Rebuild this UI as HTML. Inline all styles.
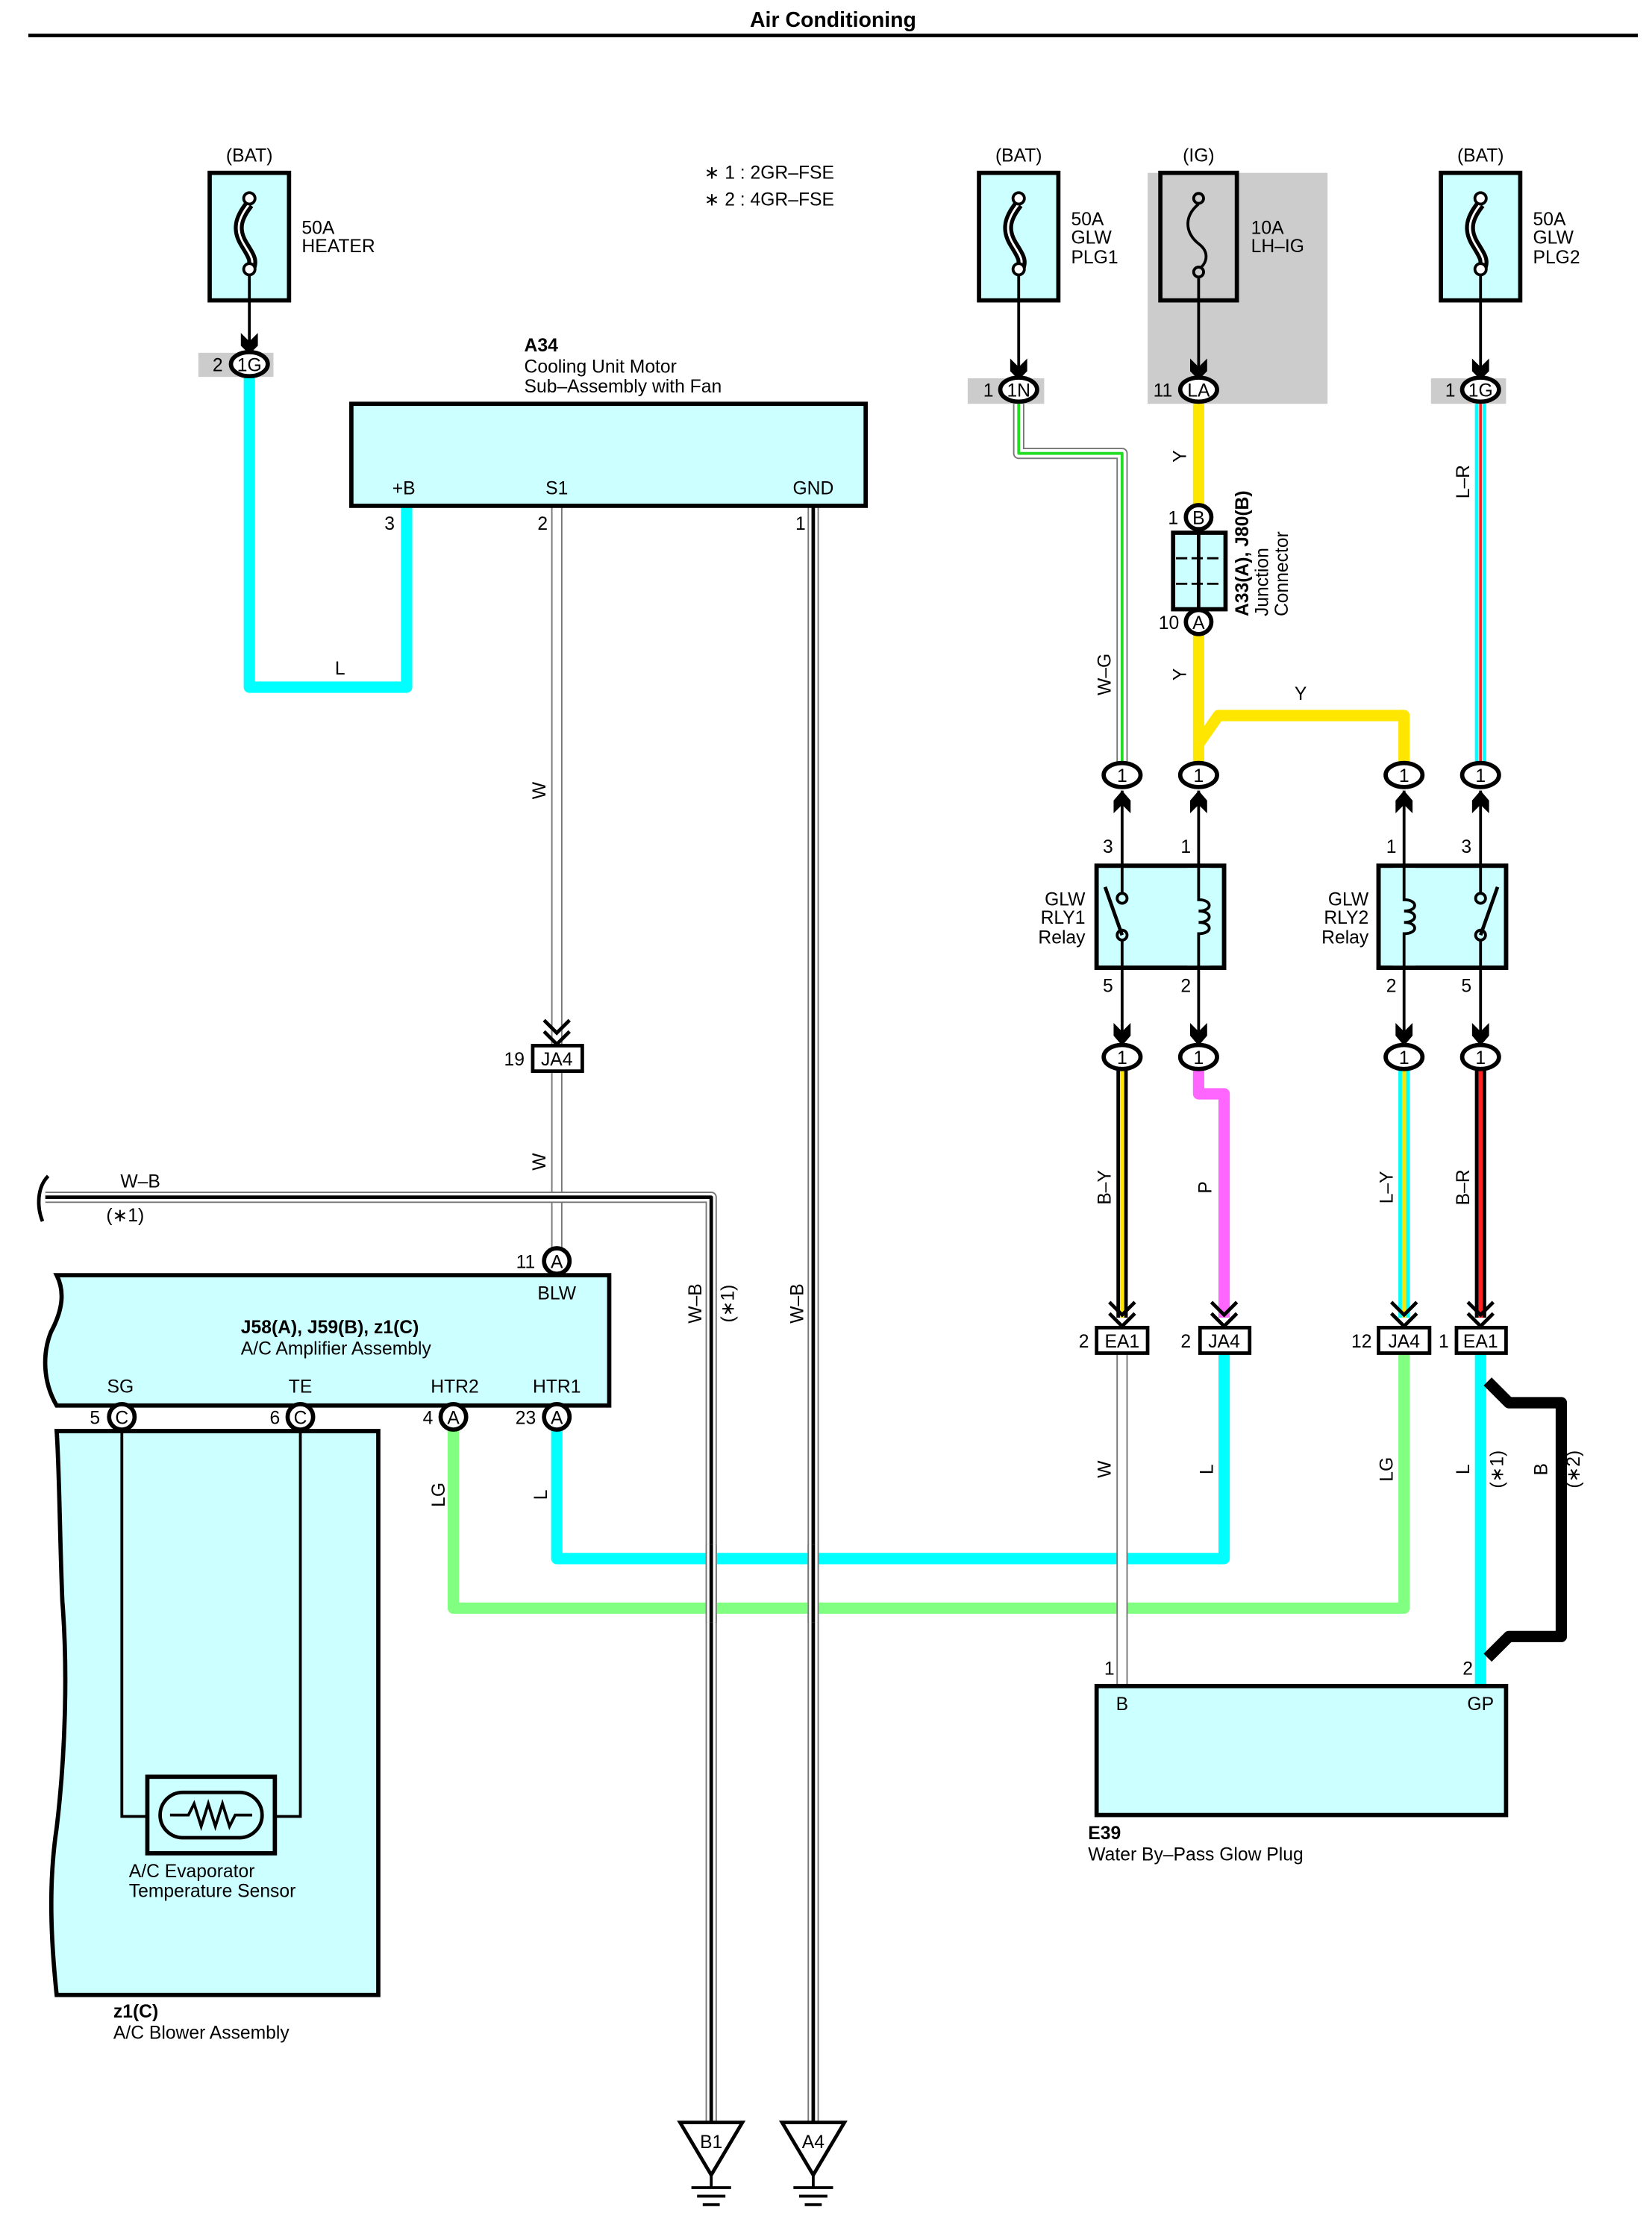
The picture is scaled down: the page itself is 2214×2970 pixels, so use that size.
<!DOCTYPE html>
<html><head><meta charset="utf-8"><style>
html,body{margin:0;padding:0;background:#fff}
svg{display:block}
text{font-family:"Liberation Sans",Arial,sans-serif;font-size:13px;fill:#000}
.b{font-weight:bold}
.box{fill:#ccffff;stroke:#000;stroke-width:3}
.ov{fill:#fff;stroke:#000;stroke-width:3}
.w{fill:none;stroke-linejoin:round}
</style></head><body>
<svg width="2214" height="2970" viewBox="0 0 1166 1564" preserveAspectRatio="none" xmlns="http://www.w3.org/2000/svg">
<defs>
<g id="fuseB">
<rect x="-28" y="0" width="56" height="90" class="box"/>
<path d="M0,22 C-8,32 -10,40 -4,50 C2,60 4,62 0,70" fill="none" stroke="#000" stroke-width="7"/>
<path d="M0,22 C-8,32 -10,40 -4,50 C2,60 4,62 0,70" fill="none" stroke="#fff" stroke-width="1.5"/>
<circle cx="0" cy="18" r="4" fill="#fff" stroke="#000" stroke-width="2"/>
<circle cx="0" cy="68" r="4" fill="#fff" stroke="#000" stroke-width="2"/>
</g>
<path id="chevUp" d="M-6,12 L0,6 L6,12 L6,3 L0,-4 L-6,3Z" fill="#000"/>
<path id="chevDn" d="M-6,-12 L0,-6 L6,-12 L6,-3 L0,4 L-6,-3Z" fill="#000"/>
<path id="dchev" d="M-9,-16 L0,-7 L9,-16 M-9,-8 L0,1 L9,-8" fill="none" stroke="#000" stroke-width="2.5"/>
</defs>

<text x="588" y="19" class="b" text-anchor="middle" style="font-size:15px">Air Conditioning</text>
<line x1="20" y1="25" x2="1156" y2="25" stroke="#000" stroke-width="2.5"/>

<text x="497" y="126">∗ 1 : 2GR–FSE</text>
<text x="497" y="145">∗ 2 : 4GR–FSE</text>

<rect x="140" y="249" width="53" height="17" fill="#ccc"/>
<rect x="683" y="267" width="54" height="18" fill="#ccc"/>
<rect x="810" y="122" width="127" height="163" fill="#ccc"/>
<rect x="1010" y="267" width="53" height="18" fill="#ccc"/>

<path d="M176,266 V485 H287 V358" class="w" stroke="#00ffff" stroke-width="8"/>
<text x="240" y="476" text-anchor="middle">L</text>
<path d="M393,358 V890" class="w" stroke="#777" stroke-width="8"/>
<path d="M393,358 V890" class="w" stroke="#fff" stroke-width="6"/>
<path d="M574,358 V1500" class="w" stroke="#777" stroke-width="8"/>
<path d="M574,358 V1500" class="w" stroke="#fff" stroke-width="6"/>
<path d="M574,358 V1500" class="w" stroke="#000" stroke-width="2.5"/>
<path d="M32,845 H502 V1500" class="w" stroke="#777" stroke-width="8"/>
<path d="M32,845 H502 V1500" class="w" stroke="#fff" stroke-width="6"/>
<path d="M32,845 H502 V1500" class="w" stroke="#000" stroke-width="2.5"/>
<path d="M34,830 C26,838 26,852 30,862" fill="none" stroke="#000" stroke-width="2.5"/>
<path d="M320,1008 V1135 H991 V955" class="w" stroke="#80ff80" stroke-width="8"/>
<path d="M393,1008 V1100 H864 V955" class="w" stroke="#00ffff" stroke-width="8"/>
<path d="M502,1090 V1145" stroke="#777" stroke-width="8"/>
<path d="M502,1090 V1145" stroke="#fff" stroke-width="6"/>
<path d="M502,1090 V1145" stroke="#000" stroke-width="2.5"/>
<path d="M574,1090 V1145" stroke="#777" stroke-width="8"/>
<path d="M574,1090 V1145" stroke="#fff" stroke-width="6"/>
<path d="M574,1090 V1145" stroke="#000" stroke-width="2.5"/>

<path d="M719,285 V320 H792 V540" class="w" stroke="#777" stroke-width="8"/>
<path d="M719,285 V320 H792 V540" class="w" stroke="#fff" stroke-width="6"/>
<path d="M719,285 V320 H792 V540" class="w" stroke="#22dd22" stroke-width="2"/>
<path d="M846,285 V540" class="w" stroke="#ffe600" stroke-width="8"/>
<path d="M846,525 L860,505 H991 V540" class="w" stroke="#ffe600" stroke-width="8"/>
<path d="M1045,285 V540" stroke="#00ffff" stroke-width="8"/>
<path d="M1045,285 V540" stroke="#fff" stroke-width="3"/>
<path d="M1045,285 V540" stroke="#ff2222" stroke-width="2"/>

<path d="M792,754 V930" stroke="#000" stroke-width="8"/>
<path d="M792,754 V930" stroke="#ffe600" stroke-width="3"/>
<path d="M846,754 V772 H864 V930" class="w" stroke="#ff66ff" stroke-width="8"/>
<path d="M991,754 V930" stroke="#00ffff" stroke-width="8"/>
<path d="M991,754 V930" stroke="#ffe600" stroke-width="3"/>
<path d="M1045,754 V930" stroke="#000" stroke-width="8"/>
<path d="M1045,754 V930" stroke="#ff2222" stroke-width="3"/>

<path d="M792,955 V1190" stroke="#777" stroke-width="8"/>
<path d="M792,955 V1190" stroke="#fff" stroke-width="6"/>
<path d="M1045,955 V1190" stroke="#00ffff" stroke-width="8"/>
<path d="M1050,975 L1065,990 H1102 V1155 H1065 L1050,1170" class="w" stroke="#000" stroke-width="8"/>

<text transform="translate(385,558) rotate(-90)" text-anchor="middle">W</text>
<text transform="translate(385,820) rotate(-90)" text-anchor="middle">W</text>
<text x="85" y="838">W–B</text>
<text x="75" y="862">(∗1)</text>
<text transform="translate(495,920) rotate(-90)" text-anchor="middle">W–B</text>
<text transform="translate(518,920) rotate(-90)" text-anchor="middle">(∗1)</text>
<text transform="translate(567,920) rotate(-90)" text-anchor="middle">W–B</text>
<text transform="translate(314,1055) rotate(-90)" text-anchor="middle">LG</text>
<text transform="translate(386,1055) rotate(-90)" text-anchor="middle">L</text>
<text transform="translate(784,476) rotate(-90)" text-anchor="middle">W–G</text>
<text transform="translate(837,322) rotate(-90)" text-anchor="middle">Y</text>
<text transform="translate(837,476) rotate(-90)" text-anchor="middle">Y</text>
<text x="918" y="494" text-anchor="middle">Y</text>
<text transform="translate(1037,340) rotate(-90)" text-anchor="middle">L–R</text>
<text transform="translate(784,838) rotate(-90)" text-anchor="middle">B–Y</text>
<text transform="translate(855,838) rotate(-90)" text-anchor="middle">P</text>
<text transform="translate(983,838) rotate(-90)" text-anchor="middle">L–Y</text>
<text transform="translate(1037,838) rotate(-90)" text-anchor="middle">B–R</text>
<text transform="translate(784,1037) rotate(-90)" text-anchor="middle">W</text>
<text transform="translate(856,1037) rotate(-90)" text-anchor="middle">L</text>
<text transform="translate(983,1037) rotate(-90)" text-anchor="middle">LG</text>
<text transform="translate(1037,1037) rotate(-90)" text-anchor="middle">L</text>
<text transform="translate(1061,1037) rotate(-90)" text-anchor="middle">(∗1)</text>
<text transform="translate(1092,1037) rotate(-90)" text-anchor="middle">B</text>
<text transform="translate(1115,1037) rotate(-90)" text-anchor="middle">(∗2)</text>

<!-- FUSES -->
<text x="176" y="114" text-anchor="middle">(BAT)</text>
<use href="#fuseB" x="176" y="122"/>
<line x1="176" y1="194" x2="176" y2="246" stroke="#000" stroke-width="2"/>
<path d="M170,235 L176,241 L182,235 L182,244 L176,250 L170,244Z" fill="#000"/>
<text x="213" y="165">50A</text><text x="213" y="178">HEATER</text>
<ellipse cx="176" cy="257" rx="13" ry="8.5" class="ov"/>
<text x="176" y="262" text-anchor="middle">1G</text><text x="150" y="262">2</text>

<text x="719" y="114" text-anchor="middle">(BAT)</text>
<use href="#fuseB" x="719" y="122"/>
<line x1="719" y1="194" x2="719" y2="264" stroke="#000" stroke-width="2"/>
<path d="M713,253 L719,259 L725,253 L725,262 L719,268 L713,262Z" fill="#000"/>
<text x="756" y="159">50A</text><text x="756" y="172">GLW</text><text x="756" y="186">PLG1</text>
<ellipse cx="719" cy="275" rx="13" ry="8.5" class="ov"/>
<text x="719" y="280" text-anchor="middle">1N</text><text x="694" y="280">1</text>

<text x="846" y="114" text-anchor="middle">(IG)</text>
<rect x="819" y="122" width="54" height="90" fill="none" stroke="#000" stroke-width="3"/>
<path d="M846,144 C834,154 838,166 846,172 C854,178 852,186 846,190" fill="none" stroke="#000" stroke-width="2"/>
<circle cx="846" cy="140" r="3.5" fill="#ccc" stroke="#000" stroke-width="2"/>
<circle cx="846" cy="192" r="3.5" fill="#ccc" stroke="#000" stroke-width="2"/>
<line x1="846" y1="196" x2="846" y2="264" stroke="#000" stroke-width="2"/>
<path d="M840,253 L846,259 L852,253 L852,262 L846,268 L840,262Z" fill="#000"/>
<text x="883" y="165">10A</text><text x="883" y="178">LH–IG</text>
<ellipse cx="846" cy="275" rx="13" ry="8.5" class="ov"/>
<text x="846" y="280" text-anchor="middle">LA</text><text x="814" y="280">11</text>

<text x="1045" y="114" text-anchor="middle">(BAT)</text>
<use href="#fuseB" x="1045" y="122"/>
<line x1="1045" y1="194" x2="1045" y2="264" stroke="#000" stroke-width="2"/>
<path d="M1039,253 L1045,259 L1051,253 L1051,262 L1045,268 L1039,262Z" fill="#000"/>
<text x="1082" y="159">50A</text><text x="1082" y="172">GLW</text><text x="1082" y="186">PLG2</text>
<ellipse cx="1045" cy="275" rx="13" ry="8.5" class="ov"/>
<text x="1045" y="280" text-anchor="middle">1G</text><text x="1020" y="280">1</text>

<!-- A34 -->
<text x="370" y="248" class="b">A34</text>
<text x="370" y="263">Cooling Unit Motor</text>
<text x="370" y="277">Sub–Assembly with Fan</text>
<rect x="248" y="285" width="363" height="72" class="box"/>
<text x="285" y="349" text-anchor="middle">+B</text>
<text x="393" y="349" text-anchor="middle">S1</text>
<text x="574" y="349" text-anchor="middle">GND</text>
<text x="275" y="374" text-anchor="middle">3</text>
<text x="383" y="374" text-anchor="middle">2</text>
<text x="565" y="374" text-anchor="middle">1</text>

<use href="#dchev" x="393" y="736"/>
<rect x="376" y="738" width="35" height="18" fill="#fff" stroke="#000" stroke-width="2.5"/>
<text x="393" y="752" text-anchor="middle">JA4</text><text x="363" y="752" text-anchor="middle">19</text>

<ellipse cx="846" cy="365" rx="9" ry="8.5" class="ov"/><text x="846" y="370" text-anchor="middle">B</text><text x="828" y="370" text-anchor="middle">1</text>
<rect x="828" y="376" width="37" height="54" class="box"/>
<line x1="846" y1="376" x2="846" y2="430" stroke="#000" stroke-width="2.5"/>
<line x1="830" y1="394" x2="863" y2="394" stroke="#000" stroke-width="1.5" stroke-dasharray="8,3"/>
<line x1="830" y1="412" x2="863" y2="412" stroke="#000" stroke-width="1.5" stroke-dasharray="8,3"/>
<ellipse cx="846" cy="439" rx="9" ry="8.5" class="ov"/><text x="846" y="444" text-anchor="middle">A</text><text x="825" y="444" text-anchor="middle">10</text>
<text transform="translate(881,435) rotate(-90)" class="b">A33(A), J80(B)</text>
<text transform="translate(895,435) rotate(-90)">Junction</text>
<text transform="translate(909,435) rotate(-90)">Connector</text>

<ellipse cx="792" cy="547" rx="13" ry="8.5" class="ov"/><text x="792" y="552" text-anchor="middle">1</text>
<ellipse cx="846" cy="547" rx="13" ry="8.5" class="ov"/><text x="846" y="552" text-anchor="middle">1</text>
<ellipse cx="991" cy="547" rx="13" ry="8.5" class="ov"/><text x="991" y="552" text-anchor="middle">1</text>
<ellipse cx="1045" cy="547" rx="13" ry="8.5" class="ov"/><text x="1045" y="552" text-anchor="middle">1</text>
<g stroke="#000" stroke-width="2">
<line x1="792" y1="558" x2="792" y2="738"/><line x1="846" y1="558" x2="846" y2="738"/>
<line x1="991" y1="558" x2="991" y2="738"/><line x1="1045" y1="558" x2="1045" y2="738"/>
</g>
<use href="#chevUp" x="792" y="562"/><use href="#chevUp" x="846" y="562"/>
<use href="#chevUp" x="991" y="562"/><use href="#chevUp" x="1045" y="562"/>
<use href="#chevDn" x="792" y="734"/><use href="#chevDn" x="846" y="734"/>
<use href="#chevDn" x="991" y="734"/><use href="#chevDn" x="1045" y="734"/>

<rect x="774" y="611" width="90" height="72" class="box"/>
<line x1="792" y1="611" x2="792" y2="631" stroke="#000" stroke-width="2"/>
<line x1="792" y1="662" x2="792" y2="683" stroke="#000" stroke-width="2"/>
<circle cx="792" cy="634" r="3.5" fill="#ccffff" stroke="#000" stroke-width="2"/>
<circle cx="792" cy="660" r="3.5" fill="#ccffff" stroke="#000" stroke-width="2"/>
<line x1="780" y1="626" x2="792" y2="660" stroke="#000" stroke-width="2.5"/>
<rect x="838" y="611" width="16" height="72" fill="#ccffff"/>
<path d="M846,611 V635 C856,635 856,643 846,643 C856,643 856,651 846,651 C856,651 856,659 846,659 V683" fill="none" stroke="#000" stroke-width="2"/>
<rect x="774" y="611" width="90" height="72" fill="none" stroke="#000" stroke-width="3"/>
<text x="766" y="639" text-anchor="end">GLW</text><text x="766" y="652" text-anchor="end">RLY1</text><text x="766" y="666" text-anchor="end">Relay</text>
<text x="782" y="602" text-anchor="middle">3</text><text x="837" y="602" text-anchor="middle">1</text>
<text x="782" y="700" text-anchor="middle">5</text><text x="837" y="700" text-anchor="middle">2</text>

<rect x="973" y="611" width="90" height="72" class="box"/>
<line x1="1045" y1="611" x2="1045" y2="631" stroke="#000" stroke-width="2"/>
<line x1="1045" y1="662" x2="1045" y2="683" stroke="#000" stroke-width="2"/>
<circle cx="1045" cy="634" r="3.5" fill="#ccffff" stroke="#000" stroke-width="2"/>
<circle cx="1045" cy="660" r="3.5" fill="#ccffff" stroke="#000" stroke-width="2"/>
<line x1="1057" y1="626" x2="1045" y2="660" stroke="#000" stroke-width="2.5"/>
<rect x="983" y="611" width="16" height="72" fill="#ccffff"/>
<path d="M991,611 V635 C1001,635 1001,643 991,643 C1001,643 1001,651 991,651 C1001,651 1001,659 991,659 V683" fill="none" stroke="#000" stroke-width="2"/>
<rect x="973" y="611" width="90" height="72" fill="none" stroke="#000" stroke-width="3"/>
<text x="966" y="639" text-anchor="end">GLW</text><text x="966" y="652" text-anchor="end">RLY2</text><text x="966" y="666" text-anchor="end">Relay</text>
<text x="982" y="602" text-anchor="middle">1</text><text x="1035" y="602" text-anchor="middle">3</text>
<text x="982" y="700" text-anchor="middle">2</text><text x="1035" y="700" text-anchor="middle">5</text>

<ellipse cx="792" cy="746" rx="13" ry="8.5" class="ov"/><text x="792" y="751" text-anchor="middle">1</text>
<ellipse cx="846" cy="746" rx="13" ry="8.5" class="ov"/><text x="846" y="751" text-anchor="middle">1</text>
<ellipse cx="991" cy="746" rx="13" ry="8.5" class="ov"/><text x="991" y="751" text-anchor="middle">1</text>
<ellipse cx="1045" cy="746" rx="13" ry="8.5" class="ov"/><text x="1045" y="751" text-anchor="middle">1</text>

<use href="#dchev" x="792" y="935"/><use href="#dchev" x="864" y="935"/>
<use href="#dchev" x="991" y="935"/><use href="#dchev" x="1045" y="935"/>
<rect x="774" y="937" width="36" height="18" fill="#fff" stroke="#000" stroke-width="2.5"/><text x="792" y="951" text-anchor="middle">EA1</text><text x="765" y="951" text-anchor="middle">2</text>
<rect x="847" y="937" width="35" height="18" fill="#fff" stroke="#000" stroke-width="2.5"/><text x="864" y="951" text-anchor="middle">JA4</text><text x="837" y="951" text-anchor="middle">2</text>
<rect x="973" y="937" width="36" height="18" fill="#fff" stroke="#000" stroke-width="2.5"/><text x="991" y="951" text-anchor="middle">JA4</text><text x="961" y="951" text-anchor="middle">12</text>
<rect x="1028" y="937" width="35" height="18" fill="#fff" stroke="#000" stroke-width="2.5"/><text x="1045" y="951" text-anchor="middle">EA1</text><text x="1019" y="951" text-anchor="middle">1</text>

<rect x="774" y="1190" width="289" height="91" class="box"/>
<text x="792" y="1207" text-anchor="middle">B</text><text x="1045" y="1207" text-anchor="middle">GP</text>
<text x="783" y="1182" text-anchor="middle">1</text><text x="1036" y="1182" text-anchor="middle">2</text>
<text x="768" y="1298" class="b">E39</text>
<text x="768" y="1313">Water By–Pass Glow Plug</text>

<path d="M40,900 H430 V992 H40 C30,975 30,955 36,940 C44,925 46,912 40,900Z" class="box"/>
<ellipse cx="393" cy="890" rx="9" ry="9" class="ov"/><text x="393" y="895" text-anchor="middle">A</text><text x="371" y="895" text-anchor="middle">11</text>
<text x="393" y="917" text-anchor="middle">BLW</text>
<text x="170" y="941" class="b">J58(A), J59(B), z1(C)</text>
<text x="170" y="956">A/C Amplifier Assembly</text>
<text x="85" y="983" text-anchor="middle">SG</text><text x="212" y="983" text-anchor="middle">TE</text>
<text x="321" y="983" text-anchor="middle">HTR2</text><text x="393" y="983" text-anchor="middle">HTR1</text>

<path d="M40,1010 H267 V1408 H40 C36,1370 34,1330 40,1290 C46,1240 48,1180 44,1130 C42,1080 42,1040 40,1010Z" class="box"/>
<path d="M86,1008 V1282 H104 M212,1008 V1282 H194" fill="none" stroke="#000" stroke-width="2"/>
<rect x="104" y="1254" width="90" height="54" fill="#ccffff" stroke="#000" stroke-width="3"/>
<rect x="113" y="1265" width="72" height="32" rx="16" fill="none" stroke="#000" stroke-width="2.5"/>
<path d="M120,1281 H133 L137,1273 L142,1289 L147,1273 L152,1289 L157,1273 L162,1289 L166,1281 H178" fill="none" stroke="#000" stroke-width="2"/>
<text x="91" y="1325">A/C Evaporator</text>
<text x="91" y="1339">Temperature Sensor</text>
<text x="80" y="1424" class="b">z1(C)</text>
<text x="80" y="1439">A/C Blower Assembly</text>

<ellipse cx="86" cy="1000" rx="9" ry="9" class="ov"/><text x="86" y="1005" text-anchor="middle">C</text><text x="67" y="1005" text-anchor="middle">5</text>
<ellipse cx="212" cy="1000" rx="9" ry="9" class="ov"/><text x="212" y="1005" text-anchor="middle">C</text><text x="194" y="1005" text-anchor="middle">6</text>
<ellipse cx="320" cy="1000" rx="9" ry="9" class="ov"/><text x="320" y="1005" text-anchor="middle">A</text><text x="302" y="1005" text-anchor="middle">4</text>
<ellipse cx="393" cy="1000" rx="9" ry="9" class="ov"/><text x="393" y="1005" text-anchor="middle">A</text><text x="371" y="1005" text-anchor="middle">23</text>

<g stroke="#000" stroke-width="2.5" fill="#fff">
<path d="M480,1498 H524 L502,1535Z"/>
<path d="M552,1498 H596 L574,1535Z"/>
</g>
<g stroke="#000" stroke-width="2">
<line x1="502" y1="1535" x2="502" y2="1544"/><line x1="488" y1="1544" x2="516" y2="1544"/><line x1="492" y1="1550" x2="512" y2="1550"/><line x1="496" y1="1556" x2="508" y2="1556"/>
<line x1="574" y1="1535" x2="574" y2="1544"/><line x1="560" y1="1544" x2="588" y2="1544"/><line x1="564" y1="1550" x2="584" y2="1550"/><line x1="568" y1="1556" x2="580" y2="1556"/>
</g>
<text x="502" y="1516" text-anchor="middle">B1</text>
<text x="574" y="1516" text-anchor="middle">A4</text>
</svg>
</body></html>
